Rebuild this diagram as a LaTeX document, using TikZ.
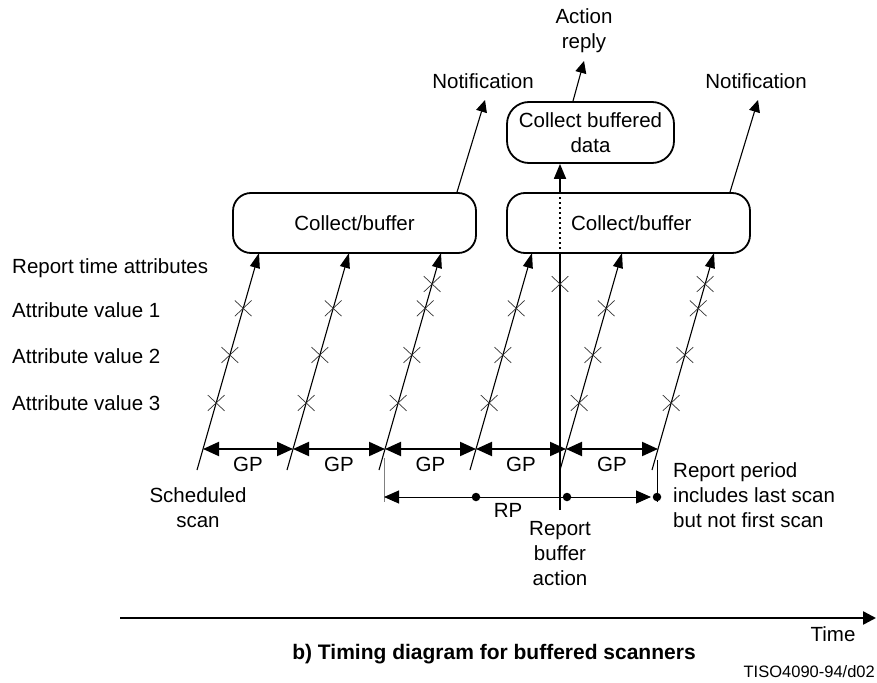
\documentclass[tikz,border=0pt]{standalone}
\usepackage{fontspec}
\setmainfont{Liberation Sans}
\usetikzlibrary{arrows.meta,shapes.misc,calc}
\begin{document}
\begin{tikzpicture}[x=1pt,y=-1pt,
  every node/.style={font=\fontsize{20.5}{25}\selectfont, inner sep=0pt},
  procbox/.style={draw, line width=1.8pt, rounded corners=18pt, minimum width=243pt, minimum height=60pt, align=center},
  scanline/.style={line width=1.1pt, -{Triangle[length=15pt,width=10pt]}},
  xmark/.style={cross out, draw=black!80, line width=0.7pt, minimum width=16pt, minimum height=15pt, inner sep=0pt},
  gparrow/.style={line width=2pt, {Triangle[length=16pt,width=14pt]}-{Triangle[length=16pt,width=14pt]}},
  rparrow/.style={line width=1pt, {Triangle[length=15pt,width=13pt]}-{Triangle[length=15pt,width=13pt]}},
  outarrow/.style={line width=1.1pt, -{Triangle[length=12pt,width=11pt]}},
  lbl/.style={align=center},
  dotmark/.style={circle, fill=black, minimum size=8.5pt, inner sep=0pt},
]
\useasboundingbox (0,0) rectangle (877,682);

% boxes
\node[procbox] (lb) at (354.5,223) {Collect/buffer};
\node[procbox, text depth=4pt, text height=18pt, text width=126pt, align=right] (rb) at (628.5,223) {Collect/buffer};
\node[procbox, minimum width=167pt, minimum height=61pt, rounded corners=22pt] (cbd) at (590.5,132.5) {Collect buffered\\data};

% outputs
\node (n1) at (483,81) {Notification};
\node (n2) at (756,81) {Notification};
\node[lbl] (ar) at (584,30.5) {Action\\reply};
\coordinate (n1t) at (485,100);
\coordinate (n2t) at (758,100);
\coordinate (art) at (584,61);
\draw[outarrow] ($(lb.north)+(102.5,0)$) -- (n1t);
\draw[outarrow] ($(rb.north)+(101.5,0)$) -- (n2t);
\draw[outarrow] ($(cbd.north)+(-17.5,0)$) -- (art);

% scan lines
\foreach \i/\bx in {1/197,2/287,3/379,4/470,5/560,6/652} {
  \coordinate (sb\i) at (\bx,470);
  \coordinate (st\i) at (\bx+62,253);
  \draw[scanline] (sb\i) -- (st\i)
    node[xmark,pos=0.309]{} node[xmark,pos=0.53]{} node[xmark,pos=0.745]{}
    coordinate[pos=0.0968] (g\i);
}
\path (sb3) -- (st3) node[xmark,pos=0.857]{};
\path (sb6) -- (st6) node[xmark,pos=0.857]{};

% GP arrows
\foreach \a/\b in {1/2,2/3,3/4,4/5,5/6}
  \draw[gparrow] (g\a) -- (g\b) node[midway, yshift=-15pt]{GP};

% report buffer action line
\coordinate (vb) at (560,510);
\draw[line width=1.8pt] (vb) -- (vb |- rb.south);
\draw[line width=1.8pt, dash pattern=on 2pt off 3pt] (vb |- rb.south) -- (vb |- rb.north);
\draw[line width=1.8pt, -{Triangle[length=15pt,width=12pt]}] (vb |- rb.north) -- (vb |- cbd.south);
\node[xmark] (vx) at (560,284) {};

% RP
\coordinate (rlt) at (384,458);
\coordinate (rlb) at (384,502);
\coordinate (rrt) at (657,460);
\coordinate (rrb) at (657,502);
\draw[gray, line width=1pt] (rlt) -- (rlb);
\draw[line width=1pt] (rrt) -- (rrb);
\coordinate (rl) at (384,497);
\coordinate (rr) at (651,497);
\draw[rparrow] (rl) -- (rr);
\node[dotmark] (d1) at (476,497) {};
\node[dotmark] (d2) at (567,497) {};
\node[dotmark] (d3) at (657,497) {};
\node (rp) at (508,510) {RP};

% left labels
\node[anchor=west] (rta) at (12,268) {Report time attributes};
\node[anchor=west] (av1) at (12,310) {Attribute value 1};
\node[anchor=west] (av2) at (12,356) {Attribute value 2};
\node[anchor=west] (av3) at (12,403) {Attribute value 3};

% lower labels
\node[lbl] (ss) at (198,507.5) {Scheduled\\scan};
\node[lbl] (rba) at (560,554) {Report\\buffer\\action};
\node[align=left, anchor=west] (rpn) at (673,495) {Report period\\includes last scan\\but not first scan};

% time axis
\coordinate (ta) at (120,618);
\coordinate (tb) at (876,618);
\draw[line width=2.5pt, -{Triangle[length=13pt,width=13pt]}] (ta) -- (tb);
\node (time) at (833,634) {Time};
\node[font=\fontsize{21}{25}\selectfont\bfseries] (title) at (494,654) {b) Timing diagram for buffered scanners};
\node[font=\fontsize{16.5}{20}\selectfont, anchor=east] (tiso) at (875,672) {TISO4090-94/d02};
\end{tikzpicture}
\end{document}
